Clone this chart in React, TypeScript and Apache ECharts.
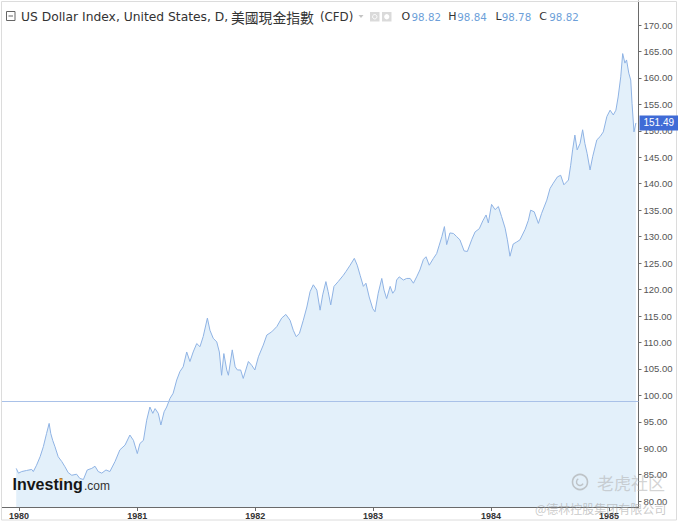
import React, { useEffect, useRef } from "react";
import * as echarts from "echarts";

const dates: string[] = [
  "1979-12-23","1979-12-30","1980-01-09","1980-01-24","1980-02-09","1980-02-14","1980-02-24","1980-03-06","1980-03-16","1980-03-26",
  "1980-04-03","1980-04-08","1980-04-14","1980-04-21","1980-05-01","1980-05-12","1980-05-22","1980-06-01","1980-06-12","1980-06-27",
  "1980-07-07","1980-07-18","1980-07-30","1980-08-13","1980-08-23","1980-09-02","1980-09-13","1980-09-26","1980-10-08","1980-10-24",
  "1980-11-08","1980-11-24","1980-12-09","1980-12-20","1981-01-01","1981-01-09","1981-01-20","1981-01-30","1981-02-09","1981-02-18",
  "1981-02-25","1981-03-07","1981-03-15","1981-03-25","1981-04-02","1981-04-12","1981-04-22","1981-05-03","1981-05-13","1981-05-23",
  "1981-06-03","1981-06-13","1981-06-23","1981-07-04","1981-07-14","1981-07-24","1981-08-06","1981-08-14","1981-08-24","1981-09-04",
  "1981-09-12","1981-09-19","1981-09-26","1981-10-05","1981-10-10","1981-10-22","1981-10-31","1981-11-07","1981-11-17","1981-11-25",
  "1981-12-11","1981-12-21","1981-12-31","1982-01-11","1982-01-26","1982-02-06","1982-02-21","1982-03-09","1982-03-24","1982-04-06",
  "1982-04-19","1982-04-29","1982-05-08","1982-05-18","1982-05-30","1982-06-10","1982-06-20","1982-06-30","1982-07-11","1982-07-21",
  "1982-07-29","1982-08-08","1982-08-15","1982-08-23","1982-09-02","1982-09-15","1982-10-01","1982-10-09","1982-10-22","1982-11-04",
  "1982-11-13","1982-11-22","1982-12-02","1982-12-10","1982-12-20","1982-12-31","1983-01-07","1983-01-17","1983-01-28","1983-02-04",
  "1983-02-12","1983-02-23","1983-03-03","1983-03-10","1983-03-15","1983-03-23","1983-04-05","1983-04-15","1983-04-26","1983-05-06",
  "1983-05-16","1983-05-26","1983-06-06","1983-06-14","1983-06-24","1983-07-07","1983-07-17","1983-07-25","1983-08-02","1983-08-10",
  "1983-08-17","1983-08-27","1983-09-07","1983-09-17","1983-09-27","1983-10-10","1983-10-20","1983-11-03","1983-11-13","1983-11-26",
  "1983-12-07","1983-12-17","1983-12-24","1984-01-03","1984-01-14","1984-01-24","1984-02-03","1984-02-14","1984-02-21","1984-02-29",
  "1984-03-10","1984-03-21","1984-03-31","1984-04-16","1984-04-26","1984-05-03","1984-05-14","1984-05-27","1984-06-06","1984-06-22",
  "1984-07-02","1984-07-12","1984-07-25","1984-08-04","1984-08-14","1984-08-28","1984-09-04","1984-09-10","1984-09-17","1984-09-24",
  "1984-10-03","1984-10-11","1984-10-18","1984-10-25","1984-11-03","1984-11-11","1984-11-24","1984-12-04","1984-12-14","1984-12-25",
  "1985-01-04","1985-01-14","1985-01-22","1985-01-29","1985-02-06","1985-02-12","1985-02-19","1985-02-24","1985-03-03","1985-03-09",
  "1985-03-13","1985-03-19","1985-03-25"
];

const values: number[] = [
  86.2,85.3,85.6,85.8,86.0,85.6,86.8,88.4,90.3,92.8,
  94.7,92.8,91.5,90.3,88.4,87.5,86.5,85.4,84.9,85.1,
  84.3,84.1,85.9,86.2,86.6,85.6,85.3,85.9,85.6,87.5,
  89.7,90.6,92.5,91.5,89.0,90.9,91.5,95.3,97.8,96.6,
  97.5,96.6,94.4,96.9,97.8,99.4,100.4,102.9,104.5,105.4,
  108.2,106.4,108.2,109.8,109.2,111.1,114.6,112.3,110.8,110.1,
  108.2,103.8,107.9,104.8,103.8,108.6,105.4,104.8,104.8,103.2,
  106.4,105.7,104.8,107.3,109.5,111.4,112.0,113.0,114.6,115.3,
  114.2,112.3,111.1,111.7,114.2,116.7,119.6,120.9,119.9,116.1,
  119.0,121.5,119.6,117.1,120.6,121.5,122.7,123.4,124.6,125.9,
  124.6,122.7,120.6,121.2,118.6,116.4,115.8,119.3,122.1,119.9,
  118.3,120.6,119.3,119.9,121.8,122.4,121.8,122.1,122.1,121.2,
  122.4,123.7,125.7,126.2,124.6,125.9,126.8,128.4,130.0,131.9,
  128.5,130.7,130.6,130.0,129.4,127.3,127.2,129.5,130.9,131.5,
  133.0,134.1,132.6,136.1,135.1,135.7,133.8,131.6,129.4,126.3,
  128.6,129.0,129.4,131.4,133.1,135.0,134.7,132.5,134.4,136.9,
  139.1,140.1,141.3,141.6,139.8,140.7,143.5,146.4,149.2,146.4,
  147.6,150.2,147.6,145.7,142.6,145.1,148.3,148.9,149.8,152.7,
  153.9,153.0,153.9,156.4,160.2,164.6,162.8,163.4,160.9,159.6,
  155.2,149.8,151.49
];

const yearTicks: string[] = ["1980-01-01", "1981-01-01", "1982-01-01", "1983-01-01", "1984-01-01", "1985-01-01"];
const priceTicks: number[] = [80, 85, 90, 95, 100, 105, 110, 115, 120, 125, 130, 135, 140, 145, 150, 155, 160, 165, 170];
const xRange: string[] = ["1979-11-09", "1985-04-02"];
const lastPrice = 151.49;
const refPrice = 98.82;
const ohlcLetters: string[] = ["O", "H", "L", "C"];
const ohlcValues: string[] = ["98.82", "98.84", "98.78", "98.82"];
const titleLatin = "US Dollar Index, United States, D,";
const titleCjk = "美國現金指數";
const titleTail = "(CFD)";

function ts(d: string): number {
  const [y, m, dd] = d.split("-").map(Number);
  return Date.UTC(y, m - 1, dd);
}

export default function App() {
  const ref = useRef<HTMLDivElement>(null);

  useEffect(() => {
    if (!ref.current) return;
    const chart = echarts.init(ref.current, undefined, { renderer: "svg" });
    const yearTs = yearTicks.map(ts);
    const ohlcX = [401.5, 448.3, 495.5, 539.3];
    const ohlcNumX = [411.5, 457.3, 501.7, 549.3];

    const graphics: any[] = [
      {
        type: "rect",
        shape: { x: 1.5, y: 1.5, width: 675, height: 518.5 },
        style: { fill: "none", stroke: "#dcdcdc", lineWidth: 1 },
        silent: true,
        z: 1,
      },
      {
        type: "rect",
        shape: { x: 6.5, y: 11.5, width: 8.5, height: 9 },
        style: { fill: "#fff", stroke: "#666", lineWidth: 1 },
        z: 10,
      },
      {
        type: "line",
        shape: { x1: 8.5, y1: 16, x2: 13, y2: 16 },
        style: { stroke: "#666", lineWidth: 1 },
        z: 10,
      },
      {
        type: "text",
        x: 21,
        y: 16.5,
        style: { text: titleLatin, font: '12.3px "DejaVu Sans"', fill: "#333", verticalAlign: "middle", align: "left" },
        z: 10,
      },
      {
        type: "text",
        x: 231,
        y: 16.5,
        style: { text: titleCjk, font: '13.8px "Noto Sans CJK TC"', fill: "#333", verticalAlign: "middle", align: "left" },
        z: 10,
      },
      {
        type: "text",
        x: 320,
        y: 16.5,
        style: { text: titleTail, font: '11.8px "DejaVu Sans"', fill: "#333", verticalAlign: "middle", align: "left" },
        z: 10,
      },
      {
        type: "polygon",
        shape: { points: [[358.5, 15], [363.5, 15], [361, 18]] },
        style: { fill: "#c4c4c4" },
        z: 10,
      },
      {
        type: "rect",
        shape: { x: 370, y: 12, width: 9.5, height: 9.5 },
        style: { fill: "#dadada" },
        z: 10,
      },
      {
        type: "circle",
        shape: { cx: 374.75, cy: 16.75, r: 2.2 },
        style: { fill: "none", stroke: "#fff", lineWidth: 1 },
        z: 11,
      },
      {
        type: "rect",
        shape: { x: 382, y: 12, width: 9.5, height: 9.5 },
        style: { fill: "#dadada" },
        z: 10,
      },
      {
        type: "circle",
        shape: { cx: 386.75, cy: 16.75, r: 2.6 },
        style: { fill: "#fff" },
        z: 11,
      },
      ...ohlcLetters.map((l, i) => ({
        type: "text",
        x: ohlcX[i],
        y: 16.5,
        style: { text: l, font: '11px "DejaVu Sans"', fill: "#333", verticalAlign: "middle", align: "left" },
        z: 10,
      })),
      ...ohlcValues.map((v, i) => ({
        type: "text",
        x: ohlcNumX[i],
        y: 16.5,
        style: { text: v, font: '10.3px "DejaVu Sans"', fill: "#6d9fd9", verticalAlign: "middle", align: "left" },
        z: 10,
      })),
      {
        type: "text",
        x: 12.5,
        y: 484.6,
        style: { text: "Investing", font: 'bold 16px "Liberation Sans"', fill: "#161616", verticalAlign: "middle", align: "left" },
        z: 10,
      },
      {
        type: "rect",
        shape: { x: 59.6, y: 478.3, width: 2.8, height: 2.6 },
        style: { fill: "#f2a33a" },
        z: 11,
      },
      {
        type: "text",
        x: 84,
        y: 486,
        style: { text: ".com", font: '12px "Liberation Sans"', fill: "#333", verticalAlign: "middle", align: "left" },
        z: 10,
      },
      {
        type: "circle",
        shape: { cx: 580, cy: 482, r: 7.5 },
        style: { fill: "none", stroke: "rgba(165,165,165,0.6)", lineWidth: 1.6 },
        z: 20,
      },
      {
        type: "arc",
        shape: { cx: 580, cy: 482, r: 3.5, startAngle: 0.5, endAngle: 4.2 },
        style: { fill: "none", stroke: "rgba(165,165,165,0.6)", lineWidth: 1.4 },
        z: 20,
      },
      {
        type: "text",
        x: 597,
        y: 482,
        style: { text: "老虎社区", font: '17px "Noto Sans CJK SC"', fill: "rgba(175,175,175,0.55)", verticalAlign: "middle", align: "left" },
        z: 20,
      },
      {
        type: "text",
        x: 535,
        y: 508,
        style: { text: "@德林控股集团有限公司", font: '12px "Noto Sans CJK SC"', fill: "rgba(165,165,165,0.6)", verticalAlign: "middle", align: "left" },
        z: 20,
      },
    ];

    chart.setOption({
      animation: false,
      backgroundColor: "#ffffff",
      textStyle: { fontFamily: "Liberation Sans" },
      grid: { left: 2, right: 39.5, top: 1, bottom: 15, containLabel: false },
      xAxis: {
        type: "value",
        min: ts(xRange[0]),
        max: ts(xRange[1]),
        axisLine: { show: true, onZero: false, lineStyle: { color: "#6a6a6a", width: 1 } },
        axisTick: { show: true, length: 4, lineStyle: { color: "#6a6a6a" }, customValues: yearTs },
        axisLabel: {
          customValues: yearTs,
          formatter: (v: number) => String(new Date(v).getUTCFullYear()),
          color: "#333",
          fontWeight: "bold",
          fontSize: 9,
          margin: 4,
          fontFamily: "Liberation Sans",
        },
        splitLine: { show: false },
      },
      yAxis: {
        type: "value",
        position: "right",
        min: 78.9,
        max: 174.54,
        axisLine: { show: true, lineStyle: { color: "#6a6a6a", width: 1 } },
        axisTick: { show: true, length: 3, lineStyle: { color: "#6a6a6a" }, customValues: priceTicks },
        axisLabel: {
          customValues: priceTicks,
          formatter: (v: number) => v.toFixed(2),
          color: "#555",
          fontSize: 9.5,
          margin: 5,
          fontFamily: "Liberation Sans",
        },
        splitLine: { show: false },
      },
      series: [
        {
          type: "line",
          data: dates.map((d, i) => [ts(d), values[i]]),
          showSymbol: false,
          symbol: "none",
          lineStyle: { color: "#8fb3e4", width: 1 },
          areaStyle: { color: "#e3f0fa", opacity: 1, origin: "start" },
          markLine: {
            silent: true,
            symbol: "none",
            animation: false,
            data: [
              {
                yAxis: refPrice,
                lineStyle: { color: "#a9c1e8", width: 1, type: "solid" },
                label: { show: false },
              },
              {
                yAxis: lastPrice,
                lineStyle: { color: "rgba(255,255,255,0)", width: 0, type: "solid" },
                label: {
                  show: true,
                  position: "end",
                  distance: 1,
                  formatter: lastPrice.toFixed(2),
                  backgroundColor: "#3f6bd6",
                  color: "#ffffff",
                  fontSize: 10,
                  padding: [3, 4, 2, 4],
                  fontFamily: "Liberation Sans",
                },
              },
            ],
          },
        },
      ],
      graphic: graphics,
    });

    return () => chart.dispose();
  }, []);

  return <div ref={ref} style={{ position: "absolute", left: 0, top: 0, width: 678, height: 522 }} />;
}
